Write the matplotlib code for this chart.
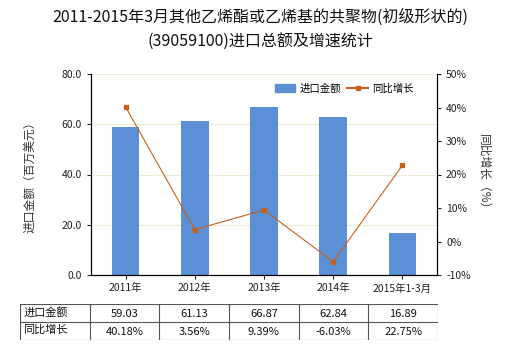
import matplotlib
matplotlib.use("Agg")
import matplotlib.pyplot as plt
from matplotlib.lines import Line2D
from matplotlib.patches import Patch

plt.rcParams['font.family'] = ['Noto Sans CJK SC', 'DejaVu Sans']

# data
cats = ['2011年', '2012年', '2013年', '2014年', '2015年1-3月']
amount = [59.03, 61.13, 66.87, 62.84, 16.89]
growth = [40.18, 3.56, 9.39, -6.03, 22.75]
row_names = ['进口金额', '同比增长']

bar_color = '#5B8FD6'
line_color = '#C8601A'
txt = '#333333'

fig = plt.figure(figsize=(5.2, 3.5), dpi=100)
ax = fig.add_axes([91/520, 1-275/350, 346/520, 201/350])
x = list(range(len(cats)))
ax.bar(x, amount, width=0.4, color=bar_color, zorder=2)
ax.set_xlim(-0.5, 4.5)
ax.set_ylim(0, 80)
ax.set_yticks([0, 20, 40, 60, 80])
ax.set_yticklabels(['%.1f' % v for v in [0, 20, 40, 60, 80]])
ax.set_xticks(x)
ax.set_xticklabels(cats)
ax.grid(axis='y', color='#EEEBD8', linewidth=0.8, zorder=0)
ax.tick_params(axis='both', labelsize=7.5, colors='#222222', length=3, width=0.8)
ax.tick_params(axis='x', length=3, pad=3)
ax.spines['top'].set_visible(False)
for s in ['left', 'bottom', 'right']:
    ax.spines[s].set_linewidth(0.8)
ax.set_ylabel('进口金额（百万美元）', fontsize=8.5, color=txt, labelpad=18)

ax2 = ax.twinx()
ax2.plot(x, growth, color=line_color, linewidth=0.8, marker='s', markersize=3.5, zorder=3)
ax2.set_ylim(-10, 50)
ax2.set_yticks(range(-10, 51, 10))
ax2.set_yticklabels(['%d%%' % v for v in range(-10, 51, 10)])
ax2.tick_params(axis='y', labelsize=7.5, colors='#222222', length=3, width=0.8)
ax2.spines['top'].set_visible(False)
ax2.spines['right'].set_linewidth(0.8)
ax2.set_ylabel('同比增长（%）', fontsize=8.5, color=txt, rotation=-90, labelpad=14)

handles = [Patch(color=bar_color), Line2D([0], [0], color=line_color, linewidth=1.5, marker='s', markersize=3.5)]
ax2.legend(handles, ['进口金额', '同比增长'], loc='upper right', bbox_to_anchor=(0.96, 1.0),
           ncol=2, frameon=False, fontsize=7.5, handlelength=2.0, handleheight=0.9,
           columnspacing=0.6, handletextpad=0.4)

fig.text(0.5, 1-17/350, '2011-2015年3月其他乙烯酯或乙烯基的共聚物(初级形状的)', ha='center', va='center',
         fontsize=11.5, color='#111111')
fig.text(0.5, 1-42/350, '(39059100)进口总额及增速统计', ha='center', va='center',
         fontsize=11.5, color='#111111')

# value table under the x axis
tab = fig.add_axes([20/520, 1-340/350, 418/520, 36/350])
tab.set_xlim(0, 6)
tab.set_ylim(2, 0)
tab.axis('off')
for r in range(3):
    tab.plot([0, 6], [r, r], color='#555555', linewidth=0.8)
for c in range(7):
    tab.plot([c, c], [0, 2], color='#555555', linewidth=0.8)
cells = [['%.2f' % v for v in amount], ['%.2f%%' % v for v in growth]]
for r in range(2):
    tab.text(0.05, r + 0.45, row_names[r], ha='left', va='center', fontsize=8, color='#111111')
    for c in range(5):
        tab.text(c + 1.5, r + 0.55, cells[r][c], ha='center', va='center', fontsize=8, color='#111111')

fig.savefig('out.png', dpi=100)
